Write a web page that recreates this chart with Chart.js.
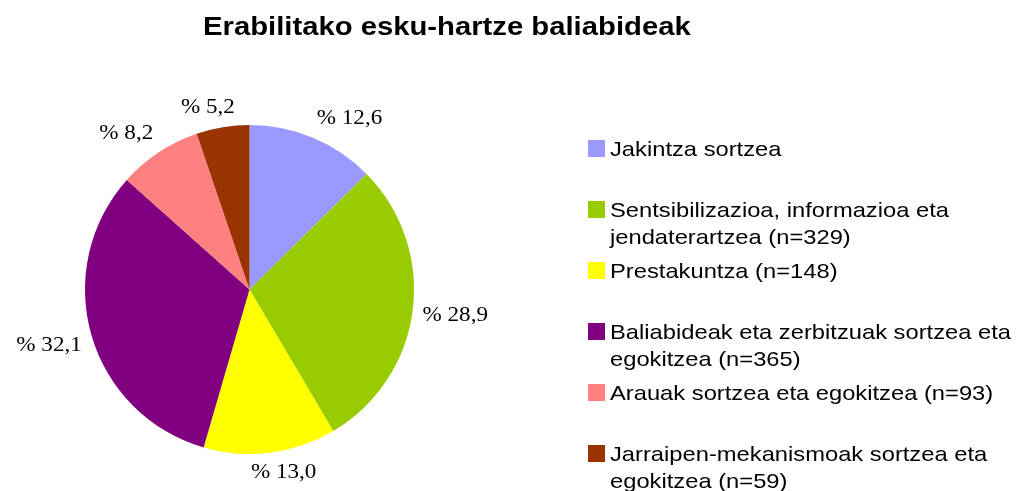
<!DOCTYPE html>
<html>
<head>
<meta charset="utf-8">
<script src="https://cdn.jsdelivr.net/npm/chart.js@4.4.1/dist/chart.umd.min.js"></script>
<style>
  html, body { margin: 0; padding: 0; background: #fff; }
  #wrap { position: relative; width: 1019px; height: 491px; overflow: hidden; }
  #pie { position: absolute; left: 0; top: 0; }
  #title {
    position: absolute; left: 203px; top: 12px; white-space: nowrap;
    font: bold 25px "Liberation Sans", Arial, sans-serif; color: #000;
    transform: scaleX(1.17); transform-origin: 0 0;
  }
  #legend { position: absolute; left: 588px; top: 0; }
  .item { position: absolute; left: 0; width: 430px; font: 21px "Liberation Sans", Arial, sans-serif; line-height: 27px; color: #000; }
  .item .box { position: absolute; left: 0; top: 5px; width: 17px; height: 17px; }
  .item .txt { position: absolute; left: 22px; top: 0; white-space: nowrap; transform: scaleX(1.13); transform-origin: 0 0; }
</style>
</head>
<body>
<div id="wrap">
  <canvas id="pie" width="1019" height="491"></canvas>
  <div id="title">Erabilitako esku-hartze baliabideak</div>
  <div id="legend"></div>
</div>
<script>
// chart data
var categories = [
    ['Jakintza sortzea'],
    ['Sentsibilizazioa, informazioa eta', 'jendaterartzea (n=329)'],
    ['Prestakuntza (n=148)'],
    ['Baliabideak eta zerbitzuak sortzea eta', 'egokitzea (n=365)'],
    ['Arauak sortzea eta egokitzea (n=93)'],
    ['Jarraipen-mekanismoak sortzea eta', 'egokitzea (n=59)']
];
var percents = [12.6, 28.9, 13.0, 32.1, 8.2, 5.2];
var colors = ['#9999FF', '#99CC00', '#FFFF00', '#800080', '#FF8080', '#993300'];

function fmtPct(v) {
    return '% ' + v.toFixed(1).replace('.', ',');
}

function clamp(v) {
    return Math.max(-1, Math.min(1, v));
}

// outside labels, placed like the office chart does it
const outsideLabels = {
    id: 'outsideLabels',
    afterDatasetsDraw(chart) {
        const ctx = chart.ctx;
        const meta = chart.getDatasetMeta(0);
        const sx = 1.1;
        ctx.save();
        ctx.font = '21px "Liberation Serif", "Times New Roman", serif';
        ctx.fillStyle = '#000';
        ctx.textAlign = 'center';
        ctx.textBaseline = 'middle';
        meta.data.forEach((arc, i) => {
            const p = arc.getProps(['x', 'y', 'startAngle', 'endAngle', 'outerRadius'], true);
            const mid = (p.startAngle + p.endAngle) / 2;
            const r = p.outerRadius + 10;
            const px = p.x + r * Math.cos(mid);
            const py = p.y + r * Math.sin(mid);
            const text = fmtPct(percents[i]);
            const w = ctx.measureText(text).width * sx;
            const h = 20;
            const cx = px + w / 2 * clamp(3 * Math.cos(mid));
            const cy = py + h / 2 * clamp(3 * Math.sin(mid));
            ctx.save();
            ctx.translate(cx, cy);
            ctx.scale(sx, 1);
            ctx.fillText(text, 0, 0);
            ctx.restore();
        });
        ctx.restore();
    }
};

new Chart(document.getElementById('pie'), {
    type: 'pie',
    data: {
        labels: categories.map(c => c.join(' ')),
        datasets: [{
            data: percents,
            backgroundColor: colors,
            borderWidth: 0
        }]
    },
    options: {
        responsive: false,
        animation: false,
        layout: { padding: { left: 83, right: 603, top: 125, bottom: 37 } },
        plugins: {
            legend: { display: false },
            tooltip: { enabled: false }
        }
    },
    plugins: [outsideLabels]
});

// legend
var legend = document.getElementById('legend');
categories.forEach((lines, i) => {
    let item = document.createElement('div');
    item.className = 'item';
    item.style.top = (134.5 + i * 61) + 'px';
    let box = document.createElement('div');
    box.className = 'box';
    box.style.background = colors[i];
    let txt = document.createElement('div');
    txt.className = 'txt';
    txt.innerHTML = lines.join('<br>');
    item.appendChild(box);
    item.appendChild(txt);
    legend.appendChild(item);
});
</script>
</body>
</html>
